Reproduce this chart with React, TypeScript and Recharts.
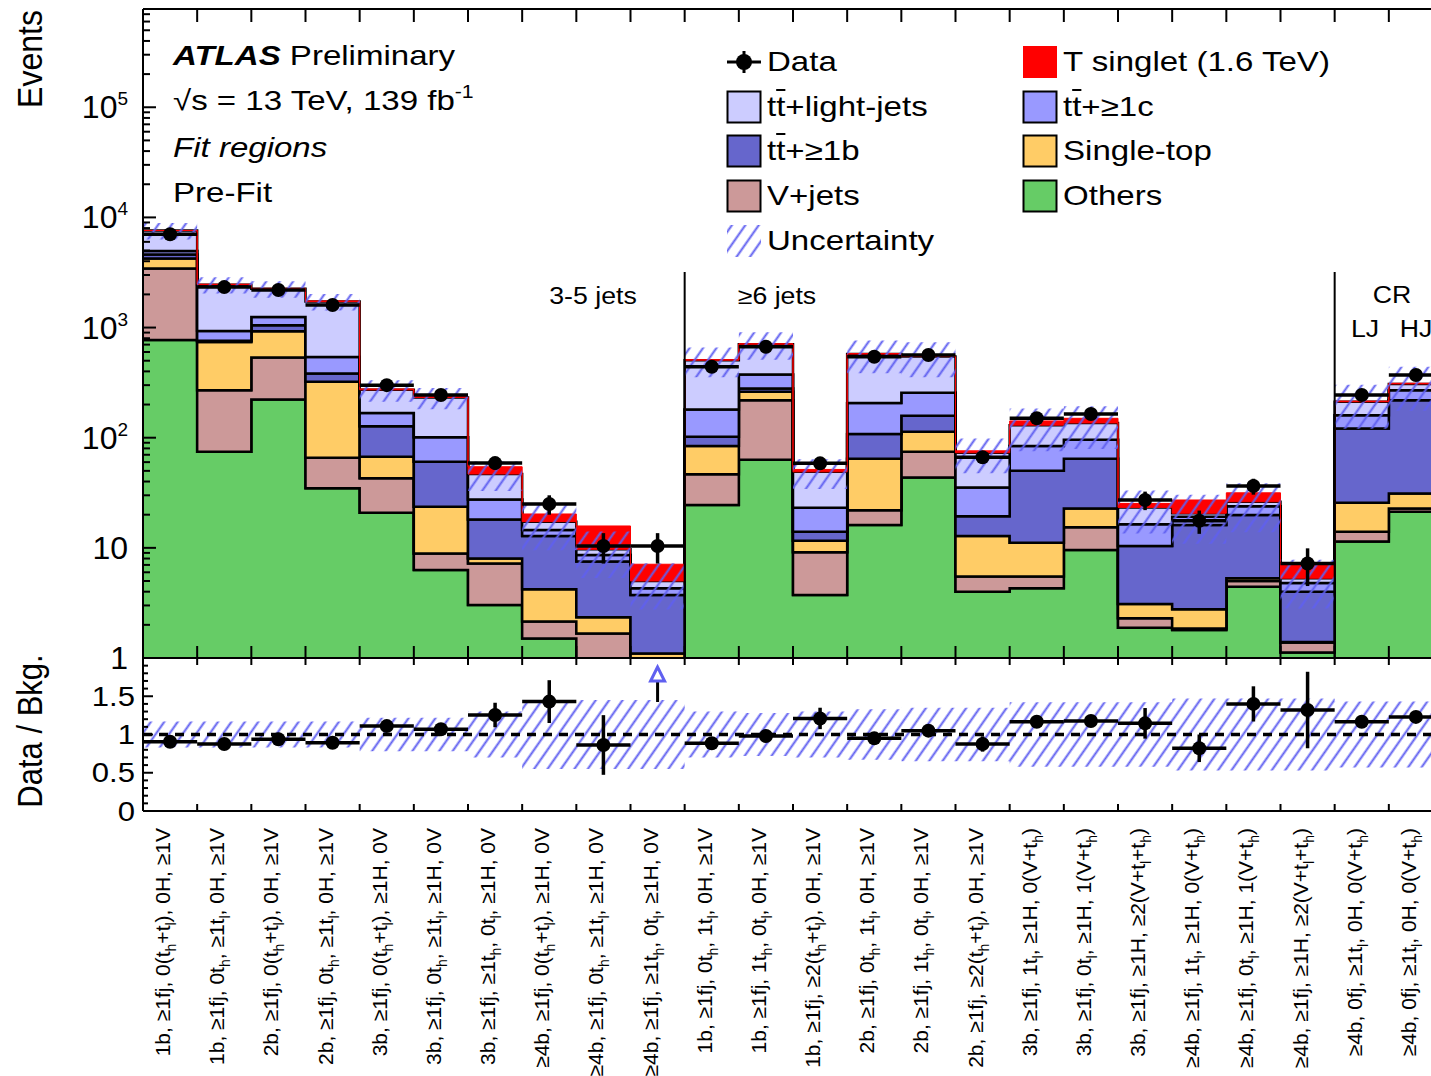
import React from "react";
import { ComposedChart, Area, Scatter, ErrorBar, XAxis, YAxis, ReferenceLine } from "recharts";

const FONT = "'Liberation Sans', Arial, Helvetica, sans-serif";
const STRETCH = 1.18;

// analysis regions, "_h" / "_l" is a subscript
const binLabels = [
  "1b, ≥1fj, 0(t_h+t_l), 0H, ≥1V",
  "1b, ≥1fj, 0t_h, ≥1t_l, 0H, ≥1V",
  "2b, ≥1fj, 0(t_h+t_l), 0H, ≥1V",
  "2b, ≥1fj, 0t_h, ≥1t_l, 0H, ≥1V",
  "3b, ≥1fj, 0(t_h+t_l), ≥1H, 0V",
  "3b, ≥1fj, 0t_h, ≥1t_l, ≥1H, 0V",
  "3b, ≥1fj, ≥1t_h, 0t_l, ≥1H, 0V",
  "≥4b, ≥1fj, 0(t_h+t_l), ≥1H, 0V",
  "≥4b, ≥1fj, 0t_h, ≥1t_l, ≥1H, 0V",
  "≥4b, ≥1fj, ≥1t_h, 0t_l, ≥1H, 0V",
  "1b, ≥1fj, 0t_h, 1t_l, 0H, ≥1V",
  "1b, ≥1fj, 1t_h, 0t_l, 0H, ≥1V",
  "1b, ≥1fj, ≥2(t_h+t_l), 0H, ≥1V",
  "2b, ≥1fj, 0t_h, 1t_l, 0H, ≥1V",
  "2b, ≥1fj, 1t_h, 0t_l, 0H, ≥1V",
  "2b, ≥1fj, ≥2(t_h+t_l), 0H, ≥1V",
  "3b, ≥1fj, 1t_l, ≥1H, 0(V+t_h)",
  "3b, ≥1fj, 0t_l, ≥1H, 1(V+t_h)",
  "3b, ≥1fj, ≥1H, ≥2(V+t_l+t_h)",
  "≥4b, ≥1fj, 1t_l, ≥1H, 0(V+t_h)",
  "≥4b, ≥1fj, 0t_l, ≥1H, 1(V+t_h)",
  "≥4b, ≥1fj, ≥1H, ≥2(V+t_l+t_h)",
  "≥4b, 0fj, ≥1t_l, 0H, 0(V+t_h)",
  "≥4b, 0fj, ≥1t_l, 0H, 0(V+t_h)",
];

// pre-fit background yields per region
const others = [769, 74.5, 222, 34.7, 20.8, 6.3, 3.03, 1.5, 0.8, 0.5, 24.5, 63, 3.73, 16.1, 43.6, 4.0, 4.3, 9.55, 1.88, 1.8, 4.44, 1.12, 11.4, 21.3];
const vJets = [2671, 195.5, 314, 31, 22, 2.6, 4.17, 0.64, 0.87, 0.4, 22.2, 156, 5.37, 5.9, 30.9, 1.5, 1.2, 5.85, 0.41, 0.05, 0.56, 0.26, 2.6, 1.5];
const singleTop = [800, 471, 391, 256, 24.2, 14.7, 0.8, 2.06, 0.67, 0.2, 37.3, 42, 2.5, 42.4, 38.5, 7.3, 5.6, 7.4, 0.8, 0.92, 0.3, 0.02, 11.7, 8.4];
const ttB = [360, 19, 123, 62, 60, 36.9, 10.1, 8.6, 5.16, 2.63, 18, 19, 2.4, 43.6, 45, 6.6, 38.9, 41.6, 7.31, 13.33, 14.6, 2.6, 95.3, 187.8];
const ttC = [360, 173, 200, 158, 41, 40.2, 9.4, 1.7, 1.1, 0.57, 78, 95, 9.1, 99, 98, 16, 34, 31.6, 6, 3.1, 4, 0.8, 39, 51];
const ttLight = [2640, 1517, 1000, 1178, 104, 131.3, 19.3, 2.8, 1.1, 0.7, 326, 332, 25.9, 368, 289, 37.6, 46, 40, 6.9, 1.4, 2.3, 0.5, 52, 38];
const tSinglet = [20, 25, 20, 25, 5, 4, 7.7, 3.0, 6.1, 2.1, 5, 6, 2.5, 5, 5, 3, 12, 14, 2, 6.6, 5.4, 1.8, 3, 4];
const bkgUnc = [0.17, 0.17, 0.17, 0.17, 0.22, 0.22, 0.3, 0.45, 0.45, 0.45, 0.3, 0.28, 0.3, 0.33, 0.35, 0.35, 0.42, 0.42, 0.42, 0.47, 0.47, 0.47, 0.43, 0.43];

// observed data
const data = [7040, 2330, 2190, 1600, 300, 244, 58.8, 25, 10.4, 10.4, 441, 670, 58.5, 543, 563, 66.4, 150, 164, 27.2, 17.6, 36.4, 7.2, 244, 371];
const dataErr = [84, 48, 47, 40, 17, 16, 7.7, 5, 3.2, 3.2, 21, 26, 7.6, 23, 24, 8.1, 12, 13, 5.2, 4.2, 6, 2.7, 16, 19];
const ratio = [0.906, 0.876, 0.937, 0.893, 1.11, 1.068, 1.255, 1.43, 0.863, 2.08, 0.885, 0.98, 1.21, 0.95, 1.05, 0.876, 1.167, 1.176, 1.146, 0.82, 1.4, 1.32, 1.167, 1.23];
const ratioErr = [0.02, 0.03, 0.03, 0.03, 0.06, 0.07, 0.16, 0.28, 0.39, 0, 0.05, 0.05, 0.14, 0.05, 0.05, 0.1, 0.08, 0.08, 0.2, 0.18, 0.23, 0.5, 0.08, 0.07];

const stack = [
  { key: "others", color: "#66CC66", values: others },
  { key: "vjets", color: "#CC9999", values: vJets },
  { key: "stop", color: "#FFCC66", values: singleTop },
  { key: "ttb", color: "#6666CC", values: ttB },
  { key: "ttc", color: "#9999FF", values: ttC },
  { key: "ttl", color: "#CCCCFF", values: ttLight },
];

const NB = binLabels.length;
const YMAX = 780000;
const RMAX = 2;
const HATCH = "#5f5ff0";

// one row per bin edge, last bin repeated so the step closes
const edgeRows = Array.from({ length: NB + 1 }, (_, i) => {
  const b = Math.min(i, NB - 1);
  const row: Record<string, any> = { x: i };
  let acc = 0;
  stack.forEach((s, k) => {
    const lo = acc;
    acc += s.values[b];
    row[s.key] = k === 0 ? acc : [lo, acc];
  });
  row.sig = [acc, acc + tSinglet[b]];
  row.unc = [acc * (1 - bkgUnc[b]), acc * (1 + bkgUnc[b])];
  row.band = [1 - bkgUnc[b], 1 + bkgUnc[b]];
  return row;
});

const dataPts = data.map((y, i) => ({ x: i + 0.5, y, ex: 0.5, ey: dataErr[i] }));
const ratioPts = ratio
  .map((r, i) => ({ x: i + 0.5, r, ex: 0.5, ey: ratioErr[i] }))
  .filter((p) => p.r <= RMAX);
const arrowPts = ratio
  .map((r, i) => ({ x: i + 0.5, r: RMAX, over: r }))
  .filter((p) => p.over > RMAX);

const edgeTicks = Array.from({ length: NB - 1 }, (_, i) => i + 1);
const ratioBottomTicks = Array.from({ length: 2 * NB - 1 }, (_, i) => (i + 1) / 2);
const logTicks: number[] = [];
for (let k = 0; k <= 5; k++) for (let m = 1; m <= 9; m++) if (m * 10 ** k <= YMAX) logTicks.push(m * 10 ** k);
const ratioTicks = Array.from({ length: 21 }, (_, i) => i / 10);

const edgeTick = (len: number) => (p: any) => (
  <line x1={p.x} y1={p.y} x2={p.x} y2={p.y + len} stroke="#000" strokeWidth={2} />
);

const UpperYTick = (p: any) => {
  const v = p.payload.value;
  const e = Math.log10(v);
  const k = Math.round(e);
  const major = Math.abs(e - k) < 1e-6;
  return (
    <g>
      <line x1={p.x} y1={p.y} x2={p.x + (major ? 13 : 7)} y2={p.y} stroke="#000" strokeWidth={2} />
      {major && (
        <text x={p.x - 15} y={p.y} dy={11} textAnchor="end" fontSize={32} fontFamily={FONT} fill="#000">
          {k < 2 ? String(v) : (
            <>
              10<tspan dy={-13} fontSize={19}>{k}</tspan>
            </>
          )}
        </text>
      )}
    </g>
  );
};

const RatioYTick = (p: any) => {
  const v = p.payload.value;
  const major = Math.abs(v * 2 - Math.round(v * 2)) < 1e-6;
  return (
    <g>
      <line x1={p.x} y1={p.y} x2={p.x + (major ? 10 : 5)} y2={p.y} stroke="#000" strokeWidth={2} />
      {major && v < RMAX - 0.01 && (
        <text transform={`translate(${p.x - 8},${p.y}) scale(1.15,1)`} dy={9.5} textAnchor="end"
          fontSize={27} fontFamily={FONT} fill="#000">
          {String(Math.round(v * 10) / 10)}
        </text>
      )}
    </g>
  );
};

function labelParts(label: string) {
  const segs: { t: string; sub: boolean }[] = [];
  label.split(/(_.)/).forEach((s) => {
    if (!s) return;
    if (s[0] === "_") segs.push({ t: s[1], sub: true });
    else segs.push({ t: s, sub: false });
  });
  let prevSub = false;
  return segs.map((s, j) => {
    const dy = s.sub ? 6 : prevSub ? -6 : 0;
    prevSub = s.sub;
    return (
      <tspan key={j} dy={dy} fontSize={s.sub ? 14 : 21}>
        {s.t}
      </tspan>
    );
  });
}

const RatioXTick = (p: any) => {
  const v = p.payload.value;
  if (Number.isInteger(v)) {
    return <line x1={p.x} y1={p.y} x2={p.x} y2={p.y - 7} stroke="#000" strokeWidth={2} />;
  }
  return (
    <text transform={`translate(${p.x},${p.y + 17}) rotate(-90)`} dy={7.5} textAnchor="end"
      fontSize={21} fontFamily={FONT} fill="#000">
      {labelParts(binLabels[Math.floor(v)])}
    </text>
  );
};

const UpperXTick = (p: any) => <line x1={p.x} y1={p.y} x2={p.x} y2={p.y - 12} stroke="#000" strokeWidth={2} />;

const DataDot = (p: any) => <circle cx={p.cx} cy={p.cy} r={7} fill="#000" />;

const OffArrow = (p: any) => (
  <g>
    <line x1={p.cx} y1={p.cy + 23} x2={p.cx} y2={p.cy + 44} stroke="#000" strokeWidth={3} />
    <polygon points={`${p.cx},${p.cy + 9} ${p.cx - 7},${p.cy + 23} ${p.cx + 7},${p.cy + 23}`}
      fill="#fff" stroke="#6060f0" strokeWidth={3} />
  </g>
);

const axisLine = { stroke: "#000", strokeWidth: 2 };

const TT = ({ tail }: { tail: string }) => (
  <>
    t<span style={{ textDecoration: "overline" }}>t</span>
    {tail}
  </>
);

const legendCols = [
  {
    left: 726,
    items: [
      { kind: "data", label: <>Data</> },
      { kind: "box", color: "#CCCCFF", label: <TT tail="+light-jets" /> },
      { kind: "box", color: "#6666CC", label: <TT tail="+≥1b" /> },
      { kind: "box", color: "#CC9999", label: <>V+jets</> },
      { kind: "hatch", label: <>Uncertainty</> },
    ],
  },
  {
    left: 1022,
    items: [
      { kind: "sig", color: "#FF0000", label: <>T singlet (1.6 TeV)</> },
      { kind: "box", color: "#9999FF", label: <TT tail="+≥1c" /> },
      { kind: "box", color: "#FFCC66", label: <>Single-top</> },
      { kind: "box", color: "#66CC66", label: <>Others</> },
    ],
  },
];

function LegendMark({ kind, color }: { kind: string; color?: string }) {
  return (
    <svg width={36} height={34} style={{ display: "block" }}>
      {kind === "data" && (
        <>
          <line x1={1} y1={17} x2={35} y2={17} stroke="#000" strokeWidth={3} />
          <line x1={18} y1={6} x2={18} y2={28} stroke="#000" strokeWidth={3} />
          <circle cx={18} cy={17} r={8} fill="#000" />
        </>
      )}
      {kind === "box" && <rect x={1.5} y={1.5} width={33} height={31} fill={color} stroke="#000" strokeWidth={2} />}
      {kind === "sig" && <rect x={1} y={1} width={34} height={32} fill={color} />}
      {kind === "hatch" && <rect x={1} y={1} width={34} height={32} fill="url(#hatch)" />}
    </svg>
  );
}

const Note = ({ x, y, children, size = 23 }: any) => (
  <div style={{
    position: "absolute", left: x, top: y, fontSize: size, whiteSpace: "nowrap", lineHeight: 1,
    transform: `translate(-50%, -50%) scaleX(1.16)`,
  }}>
    {children}
  </div>
);

export default function App() {
  return (
    <div style={{
      position: "fixed", left: 0, top: 0, width: 1431, height: 1076, overflow: "hidden",
      background: "#fff", fontFamily: FONT, color: "#000",
    }}>
      <svg width={0} height={0} style={{ position: "absolute" }}>
        <defs>
          <pattern id="hatch" patternUnits="userSpaceOnUse" width={11} height={11} patternTransform="rotate(35)">
            <line x1={5.5} y1={-1} x2={5.5} y2={12} stroke={HATCH} strokeWidth={2} />
          </pattern>
        </defs>
      </svg>

      <div style={{ position: "absolute", left: 0, top: 0 }}>
        <ComposedChart width={1500} height={680} data={edgeRows} margin={{ top: 9, right: 57, bottom: 22, left: 143 }}>
          {stack.map((s) => (
            <Area key={s.key} xAxisId="x" yAxisId="y" type="stepAfter" dataKey={s.key} fill={s.color}
              fillOpacity={1} stroke="#000" strokeWidth={2.5} dot={false} activeDot={false} isAnimationActive={false} />
          ))}
          <Area xAxisId="x" yAxisId="y" type="stepAfter" dataKey="sig" fill="#FF0000" fillOpacity={1}
            stroke="#FF0000" strokeWidth={1} dot={false} activeDot={false} isAnimationActive={false} />
          <Area xAxisId="x" yAxisId="y" type="stepAfter" dataKey="unc" fill="url(#hatch)" fillOpacity={1}
            stroke="none" dot={false} activeDot={false} isAnimationActive={false} />
          <ReferenceLine xAxisId="x" yAxisId="y" segment={[{ x: 10, y: 1 }, { x: 10, y: 3200 }]} stroke="#000" strokeWidth={2} />
          <ReferenceLine xAxisId="x" yAxisId="y" segment={[{ x: 22, y: 1 }, { x: 22, y: 3200 }]} stroke="#000" strokeWidth={2} />
          <Scatter xAxisId="x" yAxisId="y" data={dataPts} dataKey="y" fill="#000" shape={DataDot} isAnimationActive={false}>
            <ErrorBar dataKey="ex" direction="x" width={0} stroke="#000" strokeWidth={3.5} />
            <ErrorBar dataKey="ey" direction="y" width={0} stroke="#000" strokeWidth={3.5} />
          </Scatter>
          <XAxis xAxisId="x" dataKey="x" type="number" domain={[0, NB]} allowDataOverflow ticks={edgeTicks}
            interval={0} orientation="bottom" mirror height={1} tickLine={false} tickSize={0} tickMargin={0}
            axisLine={axisLine} tick={UpperXTick} />
          <XAxis xAxisId="xt" dataKey="x" type="number" domain={[0, NB]} allowDataOverflow ticks={edgeTicks}
            interval={0} orientation="top" mirror height={1} tickLine={false} tickSize={0} tickMargin={0}
            axisLine={axisLine} tick={edgeTick(13)} />
          <YAxis yAxisId="y" type="number" scale="log" domain={[1, YMAX]} allowDataOverflow ticks={logTicks}
            interval={0} mirror width={1} tickLine={false} tickSize={0} tickMargin={0}
            axisLine={axisLine} tick={UpperYTick} />
        </ComposedChart>
      </div>

      <div style={{ position: "absolute", left: 0, top: 640 }}>
        <ComposedChart width={1500} height={436} data={edgeRows} margin={{ top: 18, right: 57, bottom: 265, left: 143 }}>
          <Area xAxisId="x" yAxisId="y" type="stepAfter" dataKey="band" fill="url(#hatch)" fillOpacity={1}
            stroke="none" dot={false} activeDot={false} isAnimationActive={false} />
          <ReferenceLine xAxisId="x" yAxisId="y" y={1} stroke="#000" strokeWidth={3.5} strokeDasharray="9 7" />
          <Scatter xAxisId="x" yAxisId="y" data={ratioPts} dataKey="r" fill="#000" shape={DataDot} isAnimationActive={false}>
            <ErrorBar dataKey="ex" direction="x" width={0} stroke="#000" strokeWidth={3.5} />
            <ErrorBar dataKey="ey" direction="y" width={0} stroke="#000" strokeWidth={3.5} />
          </Scatter>
          <Scatter xAxisId="x" yAxisId="y" data={arrowPts} dataKey="r" fill="#6060f0" shape={OffArrow} isAnimationActive={false} />
          <XAxis xAxisId="x" dataKey="x" type="number" domain={[0, NB]} allowDataOverflow ticks={ratioBottomTicks}
            interval={0} orientation="bottom" mirror height={1} tickLine={false} tickSize={0} tickMargin={0}
            axisLine={axisLine} tick={RatioXTick} />
          <XAxis xAxisId="xt" dataKey="x" type="number" domain={[0, NB]} allowDataOverflow ticks={edgeTicks}
            interval={0} orientation="top" mirror height={1} tickLine={false} tickSize={0} tickMargin={0}
            axisLine={axisLine} tick={edgeTick(7)} />
          <YAxis yAxisId="y" type="number" domain={[0, RMAX]} allowDataOverflow ticks={ratioTicks}
            interval={0} mirror width={1} tickLine={false} tickSize={0} tickMargin={0}
            axisLine={axisLine} tick={RatioYTick} />
        </ComposedChart>
      </div>

      {/* axis titles */}
      <div style={{
        position: "absolute", left: 30, top: 59, fontSize: 32, whiteSpace: "nowrap", lineHeight: 1,
        transform: "translate(-50%, -50%) rotate(-90deg) scaleY(1.12)",
      }}>Events</div>
      <div style={{
        position: "absolute", left: 30, top: 731, fontSize: 31, whiteSpace: "nowrap", lineHeight: 1,
        transform: "translate(-50%, -50%) rotate(-90deg) scaleY(1.12)",
      }}>Data / Bkg.</div>

      {/* ATLAS label */}
      <div style={{
        position: "absolute", left: 173, top: 34, fontSize: 28, lineHeight: "44.7px", whiteSpace: "nowrap",
        transform: `scaleX(${STRETCH})`, transformOrigin: "left top",
      }}>
        <div><b><i>ATLAS</i></b> Preliminary</div>
        <div>√s = 13 TeV, 139 fb<span style={{ fontSize: 18, position: "relative", top: -12 }}>-1</span></div>
        <div><i>Fit regions</i></div>
        <div>Pre-Fit</div>
      </div>

      {/* legend */}
      {legendCols.map((col, ci) => (
        <div key={ci} style={{ position: "absolute", left: col.left, top: 40 }}>
          {col.items.map((it: any, i) => (
            <div key={i} style={{ height: 44.6, display: "flex", alignItems: "center" }}>
              <LegendMark kind={it.kind} color={it.color} />
              <span style={{
                fontSize: 28, marginLeft: 5, whiteSpace: "nowrap", display: "inline-block",
                transform: `scaleX(${STRETCH})`, transformOrigin: "left center",
              }}>{it.label}</span>
            </div>
          ))}
        </div>
      ))}

      {/* region notes */}
      <Note x={593} y={296}>3-5 jets</Note>
      <Note x={777} y={296}>≥6 jets</Note>
      <Note x={1392} y={295}>CR</Note>
      <Note x={1365} y={329}>LJ</Note>
      <Note x={1416} y={329}>HJ</Note>
    </div>
  );
}
